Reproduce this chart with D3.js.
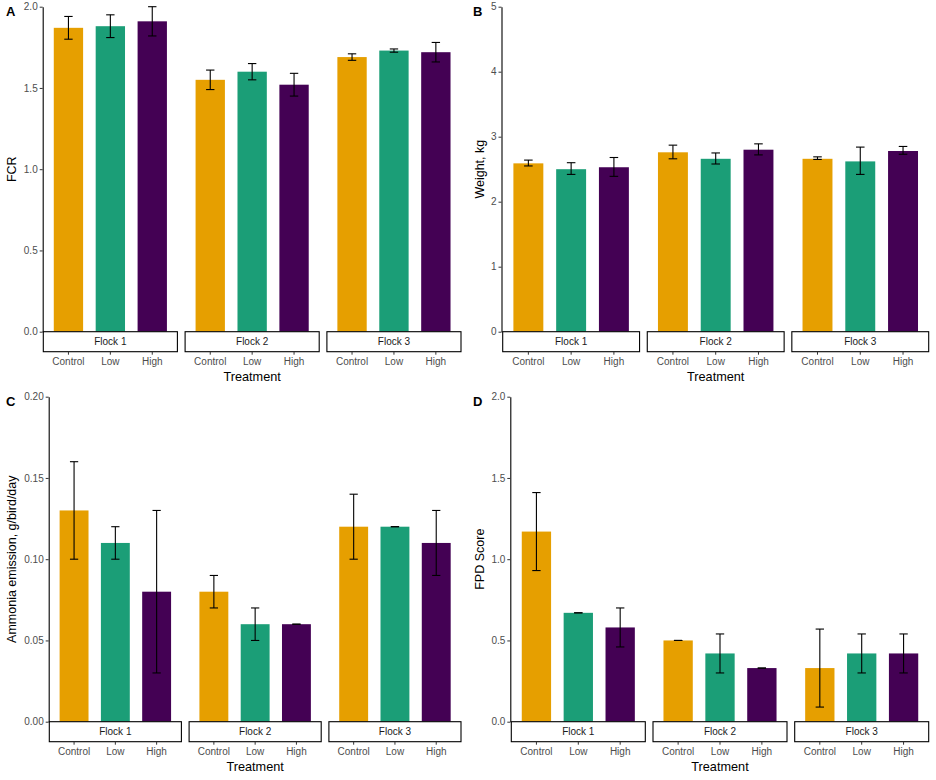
<!DOCTYPE html>
<html>
<head>
<meta charset="utf-8">
<script src="https://cdn.jsdelivr.net/npm/d3@7"></script>
<style>
  body { margin: 0; background: #fff; }
  svg { display: block; font-family: "Liberation Sans", Arial, sans-serif; }
</style>
</head>
<body>
<div id="chart"></div>
<script>
// Catégories et facettes
const treatments = ["Control", "Low", "High"];
const flocks = ["Flock 1", "Flock 2", "Flock 3"];
const barColors = ["#E69F00", "#1B9E77", "#440154"];

// A - FCR (une ligne par flock : Control, Low, High)
const fcrMean = [[1.87, 1.88, 1.91], [1.55, 1.60, 1.52], [1.69, 1.73, 1.72]];
const fcrLow  = [[1.80, 1.81, 1.82], [1.49, 1.55, 1.45], [1.67, 1.72, 1.66]];
const fcrHigh = [[1.94, 1.95, 2.00], [1.61, 1.65, 1.59], [1.71, 1.74, 1.78]];
const fcrTicks = [0, 0.5, 1.0, 1.5, 2.0];

// B - Weight, kg
const weightMean = [[2.59, 2.50, 2.53], [2.76, 2.66, 2.80], [2.66, 2.62, 2.78]];
const weightLow  = [[2.55, 2.42, 2.39], [2.66, 2.58, 2.72], [2.65, 2.42, 2.73]];
const weightHigh = [[2.64, 2.60, 2.68], [2.87, 2.75, 2.89], [2.69, 2.84, 2.85]];
const weightTicks = [0, 1, 2, 3, 4, 5];

// C - Ammonia emission
const ammoniaMean = [[0.13, 0.11, 0.08], [0.08, 0.06, 0.06], [0.12, 0.12, 0.11]];
const ammoniaLow  = [[0.10, 0.10, 0.03], [0.07, 0.05, 0.06], [0.10, 0.12, 0.09]];
const ammoniaHigh = [[0.16, 0.12, 0.13], [0.09, 0.07, 0.06], [0.14, 0.12, 0.13]];
const ammoniaTicks = [0, 0.05, 0.10, 0.15, 0.20];

// D - FPD Score
const fpdMean = [[1.17, 0.67, 0.58], [0.50, 0.42, 0.33], [0.33, 0.42, 0.42]];
const fpdLow  = [[0.93, 0.67, 0.46], [0.50, 0.30, 0.33], [0.09, 0.30, 0.30]];
const fpdHigh = [[1.41, 0.67, 0.70], [0.50, 0.54, 0.33], [0.57, 0.54, 0.54]];
const fpdTicks = [0, 0.5, 1.0, 1.5, 2.0];

const width = 936, height = 780;
const svg = d3.select("#chart").append("svg")
  .attr("width", width)
  .attr("height", height);

svg.append("rect").attr("width", width).attr("height", height).attr("fill", "#fff");

const stripH = 20;
const facetGap = 7.7;

const drawPanel = (p) => {
  const g = svg.append("g");

  // Échelle y
  const y = d3.scaleLinear()
    .domain([p.ticks[0], p.ticks[p.ticks.length - 1]])
    .range([p.bottom, p.top]);

  // Facettes (flocks)
  const W = p.right - p.left;
  const facet = d3.scaleBand()
    .domain(flocks)
    .range([p.left, p.right])
    .paddingInner(facetGap * 3 / (W + facetGap))
    .paddingOuter(0);

  // Position des traitements à l'intérieur d'une facette (équivalent ggplot expand 0.6)
  const x = d3.scaleBand()
    .domain(treatments)
    .range([0, facet.bandwidth()])
    .paddingInner(0.3)
    .paddingOuter(0.25);

  flocks.forEach((f, fi) => {
    const fx = facet(f);
    const fg = g.append("g").attr("transform", `translate(${fx},0)`);

    const rows = treatments.map((t, ti) => ({
      t, ti,
      mean: p.mean[fi][ti],
      lo: p.lo[fi][ti],
      hi: p.hi[fi][ti]
    }));

    // Barres
    fg.selectAll("rect.bar")
      .data(rows)
      .join("rect")
      .attr("class", "bar")
      .attr("x", d => x(d.t))
      .attr("width", x.bandwidth())
      .attr("y", d => y(d.mean))
      .attr("height", d => y(p.ticks[0]) - y(d.mean))
      .attr("fill", d => barColors[d.ti]);

    // Barres d'erreur
    const capW = x.step() * 0.1;
    const eb = fg.selectAll("g.err")
      .data(rows)
      .join("g")
      .attr("class", "err")
      .attr("stroke", "#000")
      .attr("stroke-width", 1.1);
    eb.append("line")
      .attr("x1", d => x(d.t) + x.bandwidth() / 2)
      .attr("x2", d => x(d.t) + x.bandwidth() / 2)
      .attr("y1", d => y(d.lo))
      .attr("y2", d => y(d.hi));
    eb.append("line")
      .attr("x1", d => x(d.t) + x.bandwidth() / 2 - capW)
      .attr("x2", d => x(d.t) + x.bandwidth() / 2 + capW)
      .attr("y1", d => y(d.hi))
      .attr("y2", d => y(d.hi));
    eb.append("line")
      .attr("x1", d => x(d.t) + x.bandwidth() / 2 - capW)
      .attr("x2", d => x(d.t) + x.bandwidth() / 2 + capW)
      .attr("y1", d => y(d.lo))
      .attr("y2", d => y(d.lo));

    // Bandeau de facette
    fg.append("rect")
      .attr("x", 0)
      .attr("y", p.bottom)
      .attr("width", facet.bandwidth())
      .attr("height", stripH)
      .attr("fill", "#fff")
      .attr("stroke", "#000")
      .attr("stroke-width", 1.1);
    fg.append("text")
      .attr("x", facet.bandwidth() / 2)
      .attr("y", p.bottom + stripH / 2)
      .attr("dy", "0.35em")
      .attr("text-anchor", "middle")
      .attr("fill", "#1a1a1a")
      .style("font-size", "10px")
      .text(f);

    // Axe x sous le bandeau
    const xAxis = d3.axisBottom(x).tickSize(3).tickPadding(3);
    const xa = fg.append("g")
      .attr("transform", `translate(0,${p.bottom + stripH})`)
      .call(xAxis);
    xa.select(".domain").remove();
    xa.selectAll(".tick line").attr("stroke", "#333");
    xa.selectAll(".tick text")
      .attr("fill", "#4d4d4d")
      .style("font-size", "10px")
      .style("font-family", "Liberation Sans, Arial, sans-serif");
  });

  // Axe y
  const yAxis = d3.axisLeft(y)
    .tickValues(p.ticks)
    .tickFormat(d3.format(p.fmt))
    .tickSize(3)
    .tickPadding(2)
    .tickSizeOuter(0);
  const ya = g.append("g")
    .attr("transform", `translate(${p.axisX},0)`)
    .call(yAxis);
  ya.select(".domain").attr("stroke", "#000").attr("stroke-width", 1.1);
  ya.selectAll(".tick line").attr("stroke", "#333");
  ya.selectAll(".tick text")
    .attr("fill", "#4d4d4d")
    .style("font-size", "10px")
    .style("font-family", "Liberation Sans, Arial, sans-serif");

  // Titres des axes
  g.append("text")
    .attr("transform", `translate(${p.yTitleX},${(p.top + p.bottom) / 2}) rotate(-90)`)
    .attr("text-anchor", "middle")
    .attr("fill", "#000")
    .style("font-size", "12.5px")
    .text(p.yTitle);
  g.append("text")
    .attr("x", (p.left + p.right) / 2)
    .attr("y", p.bottom + stripH + 29)
    .attr("text-anchor", "middle")
    .attr("fill", "#000")
    .style("font-size", "12.7px")
    .text("Treatment");

  // Lettre du panneau
  g.append("text")
    .attr("x", p.tagX)
    .attr("y", p.top + 9)
    .attr("fill", "#000")
    .style("font-size", "13px")
    .style("font-weight", "bold")
    .text(p.tag);
};

drawPanel({
  tag: "A", tagX: 6, yTitle: "FCR", yTitleX: 16,
  mean: fcrMean, lo: fcrLow, hi: fcrHigh, ticks: fcrTicks, fmt: ".1f",
  axisX: 42.7, left: 43.3, right: 461, top: 6.7, bottom: 331.7
});
drawPanel({
  tag: "B", tagX: 473, yTitle: "Weight, kg", yTitleX: 484,
  mean: weightMean, lo: weightLow, hi: weightHigh, ticks: weightTicks, fmt: "d",
  axisX: 501.5, left: 502.7, right: 928.7, top: 6.7, bottom: 331.7
});
drawPanel({
  tag: "C", tagX: 6, yTitle: "Ammonia emission, g/bird/day", yTitleX: 16,
  mean: ammoniaMean, lo: ammoniaLow, hi: ammoniaHigh, ticks: ammoniaTicks, fmt: ".2f",
  axisX: 48.7, left: 49.3, right: 461, top: 396.7, bottom: 721.7
});
drawPanel({
  tag: "D", tagX: 473, yTitle: "FPD Score", yTitleX: 484,
  mean: fpdMean, lo: fpdLow, hi: fpdHigh, ticks: fpdTicks, fmt: ".1f",
  axisX: 510.3, left: 511.3, right: 928.7, top: 396.7, bottom: 721.7
});
</script>
</body>
</html>
